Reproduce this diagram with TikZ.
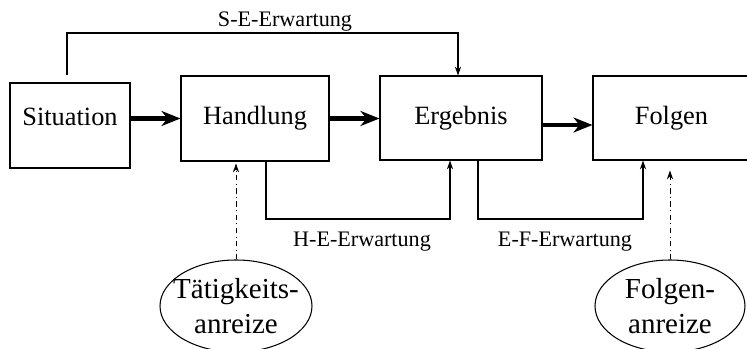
\documentclass[tikz,border=0pt]{standalone}
\usepackage{fontspec}
\setmainfont{Liberation Serif}
\usetikzlibrary{arrows.meta,shapes.geometric}

\tikzset{
  box/.style={draw, line width=0.6pt, minimum width=#1, minimum height=1.70cm,
    font=\fontsize{15}{18}\selectfont},
  anreiz/.style={draw, ellipse, line width=0.6pt, inner xsep=-0.25cm, inner ysep=0pt,
    minimum width=#1, minimum height=1.84cm, align=center,
    font=\fontsize{16.5}{20}\selectfont},
  flow/.style={line width=2.4pt, -{Stealth[length=0.38cm,width=0.30cm,inset=0.12cm]}},
  expect/.style={line width=0.6pt, ->},
  incentive/.style={line width=0.5pt, dash dot, ->},
  lab/.style={font=\fontsize{12.6}{15}\selectfont}
}

\begin{document}
\begin{tikzpicture}[>={Stealth[length=5pt,width=3.5pt]}]
\useasboundingbox (0,0) rectangle (14.94,6.98);
\node[box=2.40cm, text depth=0.34cm] (sit) at (1.40,4.47) {Situation};
\node[box=2.96cm] (hand) at (5.10,4.61) {Handlung};
\node[box=3.24cm, minimum height=1.68cm] (erg) at (9.22,4.62) {Ergebnis};
\node[box=3.14cm, minimum height=1.68cm] (folg) at (13.43,4.62) {Folgen};
\node[anreiz=3.04cm] (taet) at (4.72,0.86) {Tätigkeits-\\anreize};
\node[anreiz=3.00cm] (fanr) at (13.40,0.86) {Folgen-\\anreize};
\node[lab] (se) at (5.70,6.55) {S-E-Erwartung};
\node[lab] (he) at (7.24,2.14) {H-E-Erwartung};
\node[lab] (ef) at (11.30,2.14) {E-F-Erwartung};
\coordinate (seA) at (1.34,5.48);
\coordinate (seB) at (9.16,6.32);
\coordinate (heA) at (5.32,2.60);
\coordinate (heB) at (9.00,2.60);
\coordinate (efA) at (9.56,2.60);
\coordinate (efB) at (12.86,2.60);
\draw[flow] (sit.east |- hand.west) -- (hand.west);
\draw[flow] (hand.east) -- (hand.east -| erg.west);
\draw[flow] ([yshift=-0.14cm]erg.east) -- ([yshift=-0.14cm]erg.east -| folg.west);
\draw[expect] (seA) |- (seB) -- (seB |- erg.north);
\draw[expect] (heA |- hand.south) -- (heA) -- (heB) -- (heB |- erg.south);
\draw[expect] (efA |- erg.south) -- (efA) -- (efB) -- (efB |- folg.south);
\draw[incentive, shorten >=0.04cm] (taet.north) -- (taet.north |- hand.south);
\draw[incentive, shorten >=0.2cm] (fanr.north) -- (fanr.north |- folg.south);
\end{tikzpicture}
\end{document}
